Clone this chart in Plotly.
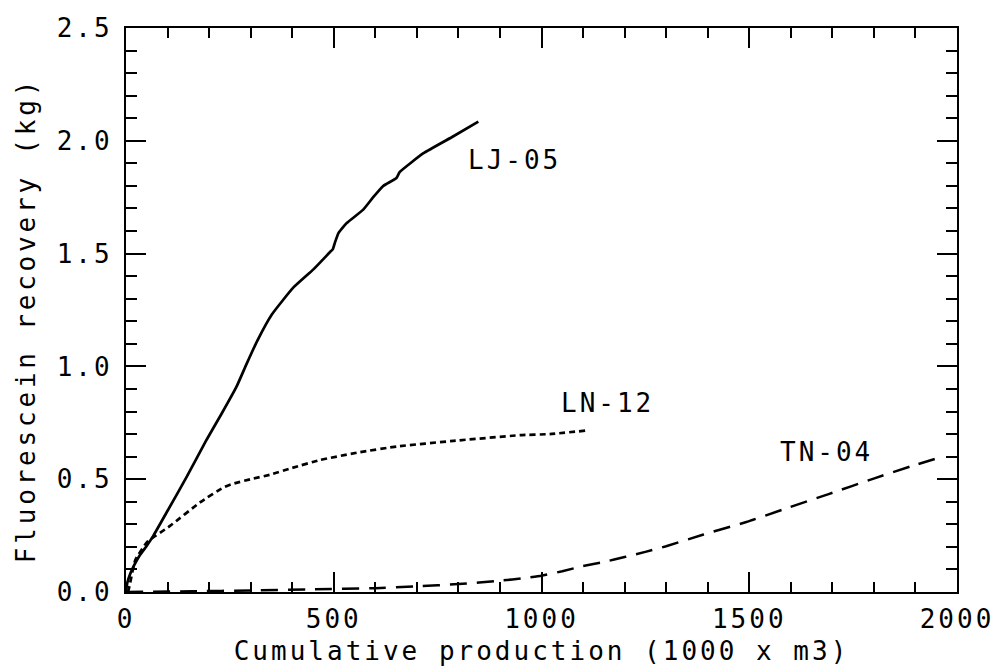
import plotly.graph_objects as go

# ---- data ----
lj05_x = [0, 3, 10, 20, 34, 50, 66, 100, 146, 194, 230, 266, 290, 315, 351, 403, 451, 490, 498, 503, 511, 531, 571, 595, 619, 651, 659, 716, 788, 848]
lj05_y = [0, 0.04, 0.08, 0.12, 0.165, 0.205, 0.25, 0.36, 0.51, 0.675, 0.79, 0.91, 1.01, 1.11, 1.23, 1.35, 1.43, 1.505, 1.52, 1.55, 1.59, 1.635, 1.695, 1.75, 1.80, 1.835, 1.862, 1.945, 2.02, 2.085]

ln12_x = [5, 10, 22, 50, 106, 178, 234, 258, 300, 347, 400, 467, 563, 652, 788, 948, 1020, 1105]
ln12_y = [0, 0.04, 0.14, 0.22, 0.293, 0.397, 0.463, 0.48, 0.50, 0.52, 0.55, 0.585, 0.62, 0.645, 0.67, 0.695, 0.70, 0.715]

tn04_x = [0, 160, 300, 450, 600, 700, 800, 900, 960, 1000, 1050, 1100, 1150, 1200, 1250, 1300, 1390, 1493, 1588, 1691, 1803, 1889, 1965]
tn04_y = [0, 0.003, 0.007, 0.012, 0.017, 0.025, 0.035, 0.05, 0.062, 0.072, 0.092, 0.115, 0.133, 0.155, 0.178, 0.203, 0.255, 0.31, 0.37, 0.434, 0.505, 0.557, 0.60]

x_ticks = [0, 500, 1000, 1500, 2000]
x_ticklabels = ["0", "500", "1000", "1500", "2000"]
y_ticks = [0.0, 0.5, 1.0, 1.5, 2.0, 2.5]
y_ticklabels = ["0.0", "0.5", "1.0", "1.5", "2.0", "2.5"]

labels = ["LJ-05", "LN-12", "TN-04"]
label_x = [934, 1160, 1685]
label_y = [1.915, 0.84, 0.62]

x_title = "Cumulative production (1000 x m3)"
y_title = "Fluorescein recovery (kg)"

FONT = "DejaVu Sans Mono"
SP = "letter-spacing:3px"


def sp(t, s=SP):
    return f"<span style='{s}'>{t}</span>"


fig = go.Figure()
fig.add_trace(go.Scatter(x=lj05_x, y=lj05_y, mode="lines",
                         line=dict(color="black", width=2.7, shape="spline", smoothing=0.4), name="LJ-05"))
fig.add_trace(go.Scatter(x=ln12_x, y=ln12_y, mode="lines",
                         line=dict(color="black", width=2.7, dash="6px,4px", shape="spline", smoothing=0.4), name="LN-12"))
fig.add_trace(go.Scatter(x=tn04_x, y=tn04_y, mode="lines",
                         line=dict(color="black", width=2.5, dash="17px,10px", shape="spline", smoothing=0.4), name="TN-04"))

for t, x, y in zip(labels, label_x, label_y):
    fig.add_annotation(x=x, y=y, text=sp(t), showarrow=False,
                       xanchor="center", yanchor="middle",
                       font=dict(family=FONT, size=26, color="black"))

# y-axis title as a rotated annotation (placed like the reference)
fig.add_annotation(x=-0.1203, y=0.482, xref="paper", yref="paper",
                   text=sp(y_title, "letter-spacing:3.8px"), textangle=-90, showarrow=False,
                   xanchor="center", yanchor="middle",
                   font=dict(family=FONT, size=26, color="black"))

axis_common = dict(
    showline=True, linecolor="black", linewidth=2.2, mirror="ticks",
    ticks="inside", ticklen=20, tickwidth=2, tickcolor="black",
    showgrid=False, zeroline=False, automargin=False,
    tickfont=dict(family=FONT, size=26, color="black"),
    tickmode="array",
)

fig.update_xaxes(
    **axis_common,
    range=[0, 2000],
    tickvals=x_ticks, ticktext=[sp(t) for t in x_ticklabels],
    minor=dict(dtick=100, tick0=0, ticklen=10, tickwidth=2, tickcolor="black", ticks="inside"),
    ticklabelstandoff=3,
    title=dict(text=sp(x_title), font=dict(family=FONT, size=26, color="black"), standoff=9),
)
fig.update_yaxes(
    **axis_common,
    range=[0, 2.5],
    tickvals=y_ticks, ticktext=[sp(t) for t in y_ticklabels],
    minor=dict(dtick=0.1, tick0=0, ticklen=11, tickwidth=2, tickcolor="black", ticks="inside"),
    ticklabelstandoff=6,
)

fig.update_layout(
    width=995, height=668,
    margin=dict(l=126, r=38, t=28, b=76),
    paper_bgcolor="white", plot_bgcolor="white",
    showlegend=False,
)

fig.write_html("out.html")
